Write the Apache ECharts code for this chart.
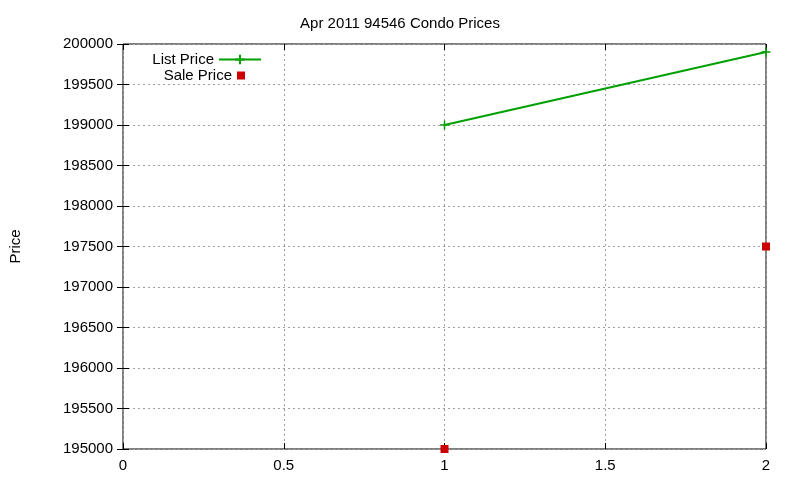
<!DOCTYPE html>
<html><head><meta charset="utf-8">
<script src="https://cdn.jsdelivr.net/npm/echarts@6/dist/echarts.min.js"></script>
<style>html,body{margin:0;padding:0;background:#fff}#c{width:800px;height:480px}</style>
</head><body><div id="c"></div>
<script>
var listPrice = [[1, 199000], [2, 199900]];
var salePrice = [[1, 195000], [2, 197500]];

var chart = echarts.init(document.getElementById('c'));
var font = 'Liberation Sans, Arial, sans-serif';
var gridLine = { show: true, lineStyle: { color: '#a0a0a0', type: [2, 3], width: 1 } };
var tick = { show: true, inside: true, length: 6, lineStyle: { color: '#000' } };
var label = { color: '#000', fontSize: 15, fontFamily: font };
var legText = { fontSize: 15, color: '#000', fontFamily: font };

chart.setOption({
  animation: false,
  title: { text: 'Apr 2011 94546 Condo Prices', left: 'center', top: 11,
    textStyle: { fontSize: 15, fontWeight: 'normal', color: '#000', fontFamily: font } },
  legend: [
    { right: 533, top: 47, align: 'right', itemWidth: 42, itemHeight: 12, itemGap: 4,
      textStyle: legText, data: ['List Price'] },
    { right: 550, top: 63, align: 'right', itemWidth: 8, itemHeight: 8, itemGap: 4,
      textStyle: legText, data: ['Sale Price'] }
  ],
  grid: { left: 120, right: 34, top: 44, bottom: 31, show: true, borderColor: '#000', borderWidth: 1 },
  xAxis: [
    { type: 'value', min: 0, max: 2, interval: 0.5, axisLine: { show: false }, axisTick: tick,
      splitLine: gridLine, axisLabel: Object.assign({ margin: 9 }, label) },
    { type: 'value', position: 'top', min: 0, max: 2, interval: 0.5, axisLine: { show: false },
      axisTick: tick, splitLine: { show: false }, axisLabel: { show: false } }
  ],
  yAxis: [
    { type: 'value', min: 195000, max: 200000, interval: 500, name: 'Price', nameLocation: 'middle',
      nameGap: 100, nameTextStyle: label, axisLine: { show: false }, axisTick: tick,
      splitLine: gridLine, axisLabel: Object.assign({ margin: 10, formatter: function (v) { return String(v); } }, label) },
    { type: 'value', position: 'right', min: 195000, max: 200000, interval: 500, axisLine: { show: false },
      axisTick: tick, splitLine: { show: false }, axisLabel: { show: false } }
  ],
  series: [
    { name: 'List Price', type: 'line', data: listPrice, symbol: 'path://M0,5H10M5,0V10', symbolSize: 9,
      itemStyle: { color: '#00a000', borderColor: '#00a000', borderWidth: 1.5 },
      lineStyle: { color: '#00a000', width: 2 } },
    { name: 'Sale Price', type: 'scatter', data: salePrice, symbol: 'rect', symbolSize: 8,
      itemStyle: { color: '#cc0000', opacity: 1 } }
  ]
});
</script></body></html>
